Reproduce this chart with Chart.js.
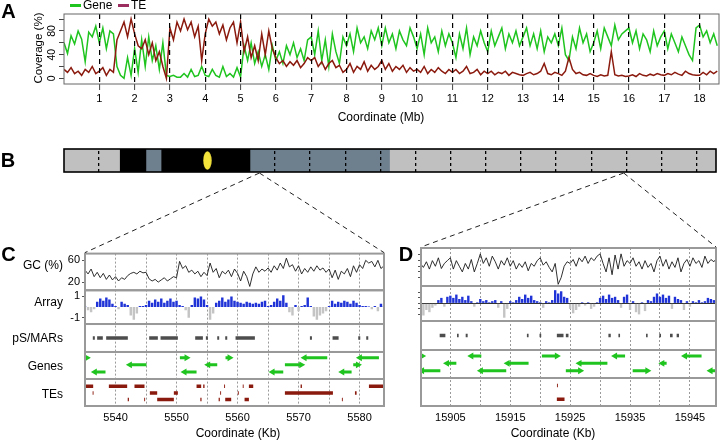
<!DOCTYPE html>
<html>
<head>
<meta charset="utf-8">
<title>Gene and TE coverage</title>
<script src="https://cdn.jsdelivr.net/npm/chart.js@4.4.1/dist/chart.umd.min.js"></script>
<style>
  body { margin: 0; background: #fff; }
  #fig { position: relative; width: 722px; height: 441px; overflow: hidden;
         font-family: "Liberation Sans", Arial, sans-serif; color: #000; }
  #fig canvas { position: absolute; }
  .txt { position: absolute; white-space: nowrap; line-height: 1; font-size: 12px; }
  .c { transform: translate(-50%, -50%); }
  .r { transform: translate(-100%, -50%); }
  .l { transform: translate(0, -50%); }
  .panel { font-size: 20px; font-weight: bold; }
  .swatch { position: absolute; height: 3px; width: 11px; }
</style>
</head>
<body>
<div id="fig">
  <canvas id="chartA" width="722" height="108" style="left:0;top:0"></canvas>
  <canvas id="chartB" width="722" height="40" style="left:0;top:140px"></canvas>
  <canvas id="chartC" width="335" height="196" style="left:55px;top:245px"></canvas>
  <canvas id="chartD" width="322" height="196" style="left:400px;top:245px"></canvas>
  <canvas id="zoomLines" width="722" height="441" style="left:0;top:0;pointer-events:none"></canvas>

  <div class="txt c panel" style="left:8.5px;top:11px">A</div>
  <div class="txt c panel" style="left:8px;top:160px">B</div>
  <div class="txt c panel" style="left:8.5px;top:254px">C</div>
  <div class="txt c panel" style="left:406px;top:254px">D</div>

  <div class="swatch" style="left:70px;top:4px;background:#1fc41f"></div>
  <div class="txt l" style="left:83px;top:5px">Gene</div>
  <div class="swatch" style="left:118px;top:4px;background:#9b2d5f"></div>
  <div class="txt l" style="left:131px;top:5px">TE</div>

  <div class="txt" style="left:39px;top:48px;font-size:11.5px;transform:translate(-50%,-50%) rotate(-90deg)">Coverage (%)</div>
  <div class="txt c" style="left:381px;top:117px">Coordinate (Mb)</div>

  <div class="txt r" style="left:63px;top:265px">GC (%)</div>
  <div class="txt r" style="left:63px;top:302px">Array</div>
  <div class="txt r" style="left:63px;top:338px">pS/MARs</div>
  <div class="txt r" style="left:63px;top:366px">Genes</div>
  <div class="txt r" style="left:63px;top:394px">TEs</div>
  <div class="txt c" style="left:238px;top:433px">Coordinate (Kb)</div>
  <div class="txt c" style="left:553px;top:433px">Coordinate (Kb)</div>
</div>

<script>
// ---- panel A: coverage per 100 kb window (0.0 .. 18.5 Mb) ----
var A_BIN = 0.1;
var A_XMAX = 18.55;
var A_XTICKS = [1,2,3,4,5,6,7,8,9,10,11,12,13,14,15,16,17,18];
var A_YTICKS = [0,20,40,60,80,100];
var A_YLABELS = [0,40,80];

var A_GENE = [
  60,42,72,58,80,66,28,78,70,88,   // 0
  60,85,50,80,75,20,5,0,35,5,      // 1
  50,10,65,20,70,30,55,15,60,5,    // 2
  3,5,2,2,8,2,15,3,5,20,           // 3
  5,3,15,5,2,20,3,8,2,18,          // 4
  2,55,30,60,25,45,20,40,15,55,    // 5
  30,45,25,55,40,60,35,50,30,65,   // 6
  70,40,80,30,65,20,75,45,25,70,   // 7
  55,75,45,85,60,70,50,80,65,85,   // 8
  55,85,60,75,50,80,65,55,85,70,   // 9
  50,75,40,85,60,70,45,80,55,75,   // 10
  60,35,75,50,85,40,70,55,80,60,   // 11
  45,80,55,70,85,50,75,60,80,55,   // 12
  70,85,55,75,50,80,45,70,60,75,   // 13
  55,85,40,30,70,50,85,60,75,45,   // 14
  60,80,50,85,70,55,90,65,75,80,   // 15
  85,60,80,50,75,65,45,80,55,70,   // 16
  80,50,75,60,45,70,55,40,30,85,   // 17
  90,70,80,60,75,55                // 18
];
var A_TE = [
  15,10,18,8,12,5,15,10,20,8,      // 0
  12,18,5,15,10,65,80,95,70,100,   // 1
  75,55,50,65,40,60,30,45,20,0,    // 2
  85,65,95,80,100,82,95,70,88,30,  // 3
  75,100,88,95,75,90,65,85,95,60,  // 4
  95,45,70,35,55,30,75,40,80,50,   // 5
  35,25,30,20,28,22,30,18,25,35,   // 6
  30,35,20,28,15,25,30,18,22,10,   // 7
  15,25,10,20,15,28,12,22,15,20,   // 8
  30,15,25,12,20,15,22,10,18,12,   // 9
  15,10,20,8,15,10,18,12,8,15,     // 10
  10,15,8,12,20,8,10,15,6,12,      // 11
  8,12,6,10,8,12,5,10,8,6,         // 12
  5,8,10,6,8,12,25,8,6,10,         // 13
  8,5,12,35,15,8,10,6,5,8,         // 14
  5,3,6,4,5,45,6,4,5,3,            // 15
  4,6,3,8,5,4,7,5,8,6,             // 16
  5,8,6,10,7,5,12,8,6,5,           // 17
  5,10,6,12,8,12                   // 18
];

// ---- panel B: chromosome bands (Mb) ----
var B_START = [0, 1.60, 2.35, 2.78, 5.31, 9.28];
var B_END   = [1.60, 2.35, 2.78, 5.31, 9.28, 18.55];
var B_BAND  = ['pale', 'dark', 'mid', 'dark', 'mid', 'pale'];
var B_CENTRO = 4.08;

// ---- panels C and D: 0.5 kb windows ----
var TRACK_BIN = 0.5;

var C_RANGE = [5535, 5584];
var C_START = 5535;
var C_XGRID = [5540,5545,5550,5555,5560,5565,5570,5575,5580];
var C_XLABELS = [5540,5550,5560,5570,5580];
var C_GC = [
  42,35,44,30,38,28,36,25,33,24,
  30,22,28,25,32,36,38,35,40,37,
  38,26,22,25,20,24,28,22,26,30,
  28,58,45,50,38,42,35,40,30,38,
  32,55,38,45,28,40,35,42,30,44,
  36,22,40,30,12,35,48,38,44,40,
  46,38,50,42,55,45,64,48,52,40,
  50,35,45,38,48,40,50,42,46,38,
  44,28,42,25,40,35,45,30,50,38,
  52,45,60,55,58,48,60,45,50
];
var C_ARR = [
  0.1,-0.3,-0.5,-0.2,0.5,0.8,0.6,0.9,0.7,0.3,
  0.1,-0.2,0.5,0.3,0.2,-0.8,-1.2,-0.6,0.1,0.1,
  0.2,0.6,0.4,0.7,0.5,0.8,0.4,0.6,0.8,0.5,
  0.6,0.2,0.1,-0.3,-1.0,0.2,0.9,0.8,1.0,0.7,
  0.2,-1.2,-0.6,0.4,0.6,0.9,0.5,0.7,1.0,0.6,
  0.5,0.4,0.3,0.5,0.4,0.3,0.4,0.3,0.5,0.6,
  0.1,0.2,0.5,0.8,0.6,1.1,0.4,-0.5,-0.8,0.2,
  -0.4,0.1,0.2,0.9,0.1,-0.9,-1.2,-0.8,-0.6,-0.4,
  0.1,0.6,0.3,0.5,0.4,0.6,0.5,0.3,0.6,0.4,
  0.2,0.1,0.1,0.05,-0.2,0.1,-0.4,0.3,0.1
];
var C_MAR_START = [5536.28,5536.99,5538.47,5545.52,5547.38,5553.06,5554.81,5556.67,5557.98,5559.67,5571.86,5575.57,5579.78,5581.09];
var C_MAR_END   = [5536.61,5537.92,5542.02,5546.94,5550.22,5554.32,5555.14,5556.99,5558.31,5562.84,5572.19,5576.56,5580.11,5581.42];
var C_GENE_START  = [5535.0,5536.61,5542.35,5550.55,5551.31,5555.19,5558.03,5565.74,5567.76,5570.98,5577.16,5578.96,5580.05];
var C_GENE_END    = [5535.3,5538.36,5545.08,5551.64,5553.28,5556.67,5558.69,5567.49,5570.44,5574.70,5578.69,5579.73,5583.17];
var C_GENE_ROW    = [3,1,2,3,1,2,3,1,2,3,1,2,3];
var C_GENE_STRAND = [1,-1,-1,1,-1,-1,1,-1,1,-1,-1,1,-1];
var C_TE_START = [5535.0,5538.91,5543.11,5546.8,5553.28,5554.37,5557.8,5560.85,5561.86,5570.33,5581.53,
                  5536.25,5545.63,5549.56,5557.15,5560.05,5567.76,5579.24,
                  5542.0,5544.7,5546.83,5553.9,5556.9,5557.98,5561.15,5577.1];
var C_TE_END   = [5536.34,5541.91,5544.75,5546.95,5554.04,5554.59,5557.95,5561.0,5562.57,5570.55,5584.2,
                  5536.4,5546.83,5550.22,5557.3,5560.2,5575.63,5579.51,
                  5542.2,5544.85,5549.56,5554.1,5557.1,5558.96,5561.86,5577.25];
var C_TE_ROW   = [3,3,3,3,3,3,3,3,3,3,3, 2,2,2,2,2,2,2, 1,1,1,1,1,1,1,1];

var D_RANGE = [15900.1, 15949.35];
var D_START = 15900;
var D_XGRID = [15905,15910,15915,15920,15925,15930,15935,15940,15945];
var D_XLABELS = [15905,15915,15925,15935,15945];
var D_GC = [
  45,38,48,35,50,40,55,36,45,50,
  55,35,50,40,30,45,35,52,30,45,
  62,45,55,40,58,48,35,50,42,55,
  40,50,35,45,38,48,32,45,40,50,
  55,42,48,38,30,45,8,20,40,48,
  45,52,40,55,48,58,45,55,50,58,
  62,45,30,55,25,60,35,62,40,50,
  45,55,40,48,35,50,38,45,30,50,
  58,40,52,35,48,38,55,30,45,52,
  40,55,45,50,38,58,45,52,48,55
];
var D_ARR = [
  -0.9,-1.1,-0.6,-0.8,-0.4,-0.2,0.3,0.5,-0.3,0.6,
  0.7,0.5,0.8,0.4,0.6,0.3,0.7,0.2,-0.3,0.1,
  0.4,0.2,0.3,0.1,0.2,0.3,-0.4,0.2,-1.3,-0.5,
  0.2,0.1,0.3,0.6,0.4,0.8,0.5,0.7,0.3,0.2,
  0.1,-0.4,0.2,0.1,0.3,1.2,0.9,1.1,0.6,0.5,
  -0.5,-0.9,-0.6,-0.3,0.1,-0.2,0.1,-0.5,-0.3,0.1,
  0.5,0.7,0.4,0.8,0.5,0.6,0.3,-0.4,0.6,0.8,
  -0.6,0.2,-0.8,-1.0,0.1,-0.7,0.3,0.2,0.6,0.9,
  0.6,0.8,0.5,0.7,-0.5,0.6,0.4,0.3,-0.6,0.2,
  -0.3,0.2,0.1,0.3,0.1,0.2,0.5,0.4,0.3,0.1
];
var D_MAR_START = [15903.22,15906.11,15907.56,15917.78,15919.89,15922.78,15924.28,15931.39,15933.06,15937.67,15939.89,15941.67,15942.78];
var D_MAR_END   = [15904.17,15906.39,15907.89,15918.06,15920.17,15923.89,15924.72,15931.78,15933.33,15937.94,15940.17,15942.11,15943.17];
var D_GENE_START  = [15900.0,15900.28,15904.44,15908.5,15910.1,15914.56,15920.28,15924.28,15926.56,15932.5,15935.44,15940.39,15944.17,15948.44];
var D_GENE_END    = [15900.3,15903.33,15906.0,15910.17,15914.33,15918.06,15922.78,15926.67,15931.22,15934.17,15937.89,15941.11,15946.94,15950.0];
var D_GENE_ROW    = [3,1,2,3,1,2,3,1,2,3,1,2,3,1];
var D_GENE_STRAND = [1,-1,-1,-1,-1,-1,1,1,-1,-1,1,-1,-1,-1];
var D_TE_START = [15922.78, 15922.8];
var D_TE_END   = [15924.06, 15922.95];
var D_TE_ROW   = [1, 3];

// ---- styles ----
var GENE_GREEN = '#1fc41f';
var TE_RED = '#8b1a0e';
var BAND_COLOR = { pale: '#c0c0c0', dark: '#000000', mid: '#6e7f8e' };
var ARR_POS = '#1f33d6';
var ARR_NEG = '#c4c4c4';

Chart.defaults.font.family = '"Liberation Sans", Arial, sans-serif';
Chart.defaults.color = '#000';
Chart.defaults.animation = false;
Chart.defaults.responsive = false;
Chart.defaults.plugins.legend.display = false;
Chart.defaults.plugins.tooltip.enabled = false;

// box round the plot area (or round every stacked track)
var framePlugin = {
    id: 'frame',
    defaults: { color: '#666', width: 1, tracks: false },
    afterDraw: function(chart, args, opts) {
        var ctx = chart.ctx, a = chart.chartArea;
        ctx.save();
        ctx.strokeStyle = opts.color;
        ctx.lineWidth = opts.width;
        if (opts.tracks) {
            Object.values(chart.scales).forEach(function(s) {
                if (s.axis === 'y') ctx.strokeRect(a.left, s.top, a.right - a.left, s.bottom - s.top);
            });
        } else {
            ctx.strokeRect(a.left, a.top, a.right - a.left, a.bottom - a.top);
        }
        ctx.restore();
    }
};
Chart.register(framePlugin);

// R style y labels, turned along the axis
var rotatedYTicks = {
    id: 'rotatedYTicks',
    afterDraw: function(chart) {
        var ctx = chart.ctx, y = chart.scales.y;
        ctx.save();
        ctx.font = '10.5px "Liberation Sans", Arial, sans-serif';
        ctx.fillStyle = '#000';
        ctx.textAlign = 'center';
        ctx.textBaseline = 'middle';
        A_YLABELS.forEach(function(v) {
            ctx.save();
            ctx.translate(chart.chartArea.left - 11.5, y.getPixelForValue(v));
            ctx.rotate(-Math.PI / 2);
            ctx.fillText(String(v), 0, 0);
            ctx.restore();
        });
        ctx.restore();
    }
};

function tickList(values) {
    return function(s) { s.ticks = values.map(function(v) { return { value: v }; }); };
}

function bandAt(v) {
    for (var i = 0; i < B_START.length; i++) {
        if (v >= B_START[i] && v < B_END[i]) return B_BAND[i];
    }
    return 'pale';
}

function ellipseImage(w, h, color) {
    var c = document.createElement('canvas');
    c.width = w; c.height = h;
    var g = c.getContext('2d');
    g.fillStyle = color;
    g.beginPath();
    g.ellipse(w / 2, h / 2, w / 2 - 0.3, h / 2 - 0.3, 0, 0, 2 * Math.PI);
    g.fill();
    return c;
}

// features as broken line pieces: start, end, gap
function segments(starts, ends, rows) {
    var out = [];
    starts.forEach(function(s, i) {
        var r = rows ? rows[i] : 1;
        out.push({ x: s, y: r }, { x: ends[i], y: r }, { x: ends[i], y: null });
    });
    return out;
}

function geneSegments(starts, ends, rows, strand) {
    var out = [];
    starts.forEach(function(s, i) {
        var r = rows[i], left = strand[i] < 0;
        out.push({ x: s, y: r, head: left, rot: -90 },
                 { x: ends[i], y: r, head: !left, rot: 90 },
                 { x: ends[i], y: null });
    });
    return out;
}

// ---- A ----
var chartA = new Chart(document.getElementById('chartA'), {
    type: 'line',
    data: {
        datasets: [
            { label: 'Gene', data: A_GENE.map(function(v, i) { return { x: i * A_BIN, y: v }; }),
              borderColor: GENE_GREEN, borderWidth: 1.5, pointRadius: 0, order: 2 },
            { label: 'TE', data: A_TE.map(function(v, i) { return { x: i * A_BIN, y: v }; }),
              borderColor: TE_RED, borderWidth: 1.5, pointRadius: 0, order: 1 }
        ]
    },
    options: {
        layout: { padding: { top: 14, right: 3, left: 0, bottom: 0 } },
        scales: {
            x: {
                type: 'linear', min: 0, max: A_XMAX,
                afterBuildTicks: tickList(A_XTICKS),
                ticks: { font: { size: 11 }, padding: 2, maxRotation: 0, autoSkip: false },
                grid: { z: 1, color: '#000', lineWidth: 1.2, tickLength: 6, tickColor: '#444', tickWidth: 1 },
                border: { display: false, dash: [5, 4] },
                afterFit: function(s) { s.height = 24; }
            },
            y: {
                type: 'linear', min: -9.6, max: 108.6,
                afterBuildTicks: tickList(A_YTICKS),
                ticks: { display: false },
                grid: { drawOnChartArea: false, tickLength: 5, tickColor: '#444' },
                border: { display: false },
                afterFit: function(s) { s.width = 64; }
            }
        },
        plugins: { frame: { color: '#666', width: 1 } }
    },
    plugins: [rotatedYTicks]
});

// ---- B ----
var chartB = new Chart(document.getElementById('chartB'), {
    type: 'bar',
    data: {
        labels: ['chr'],
        datasets: [
            { data: B_START.map(function(s, i) { return { x: [s, B_END[i]], y: 'chr' }; }),
              backgroundColor: B_BAND.map(function(b) { return BAND_COLOR[b]; }),
              barPercentage: 1, categoryPercentage: 1, borderWidth: 0, order: 2 },
            { type: 'scatter', data: [{ x: B_CENTRO, y: 'chr' }], order: 1,
              pointStyle: ellipseImage(9, 19, '#f3e33b'), pointRadius: 5 }
        ]
    },
    options: {
        indexAxis: 'y',
        layout: { padding: { left: 64, right: 3, top: 9, bottom: 8 } },
        scales: {
            x: {
                type: 'linear', min: 0, max: A_XMAX,
                afterBuildTicks: tickList(A_XTICKS),
                ticks: { display: false },
                grid: {
                    z: 1,
                    color: function(c) { return bandAt(c.tick ? c.tick.value : -1) === 'dark' ? 'rgba(0,0,0,0)' : '#000'; },
                    lineWidth: 1.3, drawTicks: false, offset: false
                },
                border: { display: false, dash: [3, 3], dashOffset: -2 },
                afterFit: function(s) { s.height = 0; }
            },
            y: { type: 'category', display: false }
        },
        plugins: { frame: { color: '#000', width: 1.6 } }
    }
});

// ---- C / D ----
function trackChart(id, t) {
    var pos = function(i) { return t.start + i * TRACK_BIN; };
    function yAxis(weight, size, min, max, extra) {
        var base = {
            type: 'linear', position: 'left', stack: 'tracks', weight: weight, stackWeight: size,
            min: min, max: max,
            ticks: { display: false },
            grid: { drawOnChartArea: false, drawTicks: false },
            border: { display: false },
            afterFit: function(s) { s.width = t.axisWidth; }
        };
        return Object.assign(base, extra || {});
    }
    var tickFont = { display: t.showLabels, font: { size: 11 }, padding: 2 };

    return new Chart(document.getElementById(id), {
        type: 'line',
        data: {
            datasets: [
                { label: 'GC', yAxisID: 'yGC',
                  data: t.gc.map(function(v, i) { return { x: pos(i), y: v }; }),
                  borderColor: '#1a1a1a', borderWidth: 0.9, pointRadius: 0 },
                { type: 'bar', label: 'Array', yAxisID: 'yArr',
                  data: t.arr.map(function(v, i) { return { x: pos(i), y: v }; }),
                  backgroundColor: function(c) { return c.raw && c.raw.y < 0 ? ARR_NEG : ARR_POS; },
                  barPercentage: 0.8, categoryPercentage: 1 },
                { label: 'pS/MARs', yAxisID: 'yMar', data: segments(t.marS, t.marE, null),
                  borderColor: '#4d4d4d', borderWidth: 3.5, borderCapStyle: 'butt', pointRadius: 0 },
                { label: 'Genes', yAxisID: 'yGene',
                  data: geneSegments(t.geneS, t.geneE, t.geneRow, t.geneStrand),
                  borderColor: GENE_GREEN, borderWidth: 3, borderCapStyle: 'butt',
                  pointStyle: 'triangle',
                  pointRadius: function(c) { return c.raw && c.raw.head ? 4 : 0; },
                  pointRotation: function(c) { return c.raw && c.raw.rot ? c.raw.rot : 0; },
                  pointBackgroundColor: GENE_GREEN, pointBorderWidth: 0 },
                { label: 'TEs', yAxisID: 'yTE', data: segments(t.teS, t.teE, t.teRow),
                  borderColor: TE_RED, borderWidth: 3.5, borderCapStyle: 'butt', pointRadius: 0 }
            ]
        },
        options: {
            layout: { padding: { top: 3, right: 6, left: 0, bottom: 0 } },
            scales: {
                x: {
                    type: 'linear', min: t.range[0], max: t.range[1], offset: false,
                    afterBuildTicks: tickList(t.grid),
                    ticks: {
                        callback: function(v) { return t.labels.indexOf(v) >= 0 ? String(v) : ''; },
                        font: { size: 11 }, padding: 5, autoSkip: false, maxRotation: 0
                    },
                    grid: { color: '#9a9a9a', lineWidth: 1, drawTicks: false, offset: false },
                    border: { display: false, dash: [2, 2] },
                    afterFit: function(s) { s.height = 35; }
                },
                yGC: yAxis(5, 38, 5, 72.4, {
                    afterBuildTicks: tickList(t.gcTicks),
                    ticks: tickFont,
                    grid: { drawOnChartArea: false, tickLength: 3, tickColor: '#555' }
                }),
                yArr: yAxis(4, 35, -1.6, 1.58, {
                    afterBuildTicks: tickList(t.arrTicks),
                    ticks: tickFont,
                    grid: {
                        color: function(c) { return c.tick && c.tick.value === 0 ? '#333' : 'rgba(0,0,0,0)'; },
                        tickColor: '#555', tickLength: 3, lineWidth: 1
                    }
                }),
                yMar: yAxis(3, 29, 0, 2),
                yGene: yAxis(2, 28, 0, 3.82),
                yTE: yAxis(1, 28, 0.03, 4.09)
            },
            plugins: { frame: { color: '#999', width: 2, tracks: true } }
        }
    });
}

var chartC = trackChart('chartC', {
    start: C_START, range: C_RANGE, grid: C_XGRID, labels: C_XLABELS,
    axisWidth: 30, showLabels: true, gcTicks: [20, 60], arrTicks: [-1, 0, 1],
    gc: C_GC, arr: C_ARR, marS: C_MAR_START, marE: C_MAR_END,
    geneS: C_GENE_START, geneE: C_GENE_END, geneRow: C_GENE_ROW, geneStrand: C_GENE_STRAND,
    teS: C_TE_START, teE: C_TE_END, teRow: C_TE_ROW
});

var chartD = trackChart('chartD', {
    start: D_START, range: D_RANGE, grid: D_XGRID, labels: D_XLABELS,
    axisWidth: 21, showLabels: false, gcTicks: [20, 30, 40, 50, 60], arrTicks: [-1, -0.5, 0, 0.5, 1],
    gc: D_GC, arr: D_ARR, marS: D_MAR_START, marE: D_MAR_END,
    geneS: D_GENE_START, geneE: D_GENE_END, geneRow: D_GENE_ROW, geneStrand: D_GENE_STRAND,
    teS: D_TE_START, teE: D_TE_END, teRow: D_TE_ROW
});

// dashed lines from the chromosome to the zoomed panels
function drawZoomLines() {
    var ctx = document.getElementById('zoomLines').getContext('2d');
    var bEl = chartB.canvas, bx = chartB.scales.x;
    var y0 = bEl.offsetTop + chartB.chartArea.bottom + 1;
    ctx.strokeStyle = '#222';
    ctx.lineWidth = 1;
    ctx.setLineDash([5, 4]);
    [[chartC, C_RANGE], [chartD, D_RANGE]].forEach(function(p) {
        var ch = p[0], r = p[1];
        var x0 = bEl.offsetLeft + bx.getPixelForValue((r[0] + r[1]) / 2 / 1000);
        var el = ch.canvas, a = ch.chartArea;
        [a.left, a.right].forEach(function(xe) {
            ctx.beginPath();
            ctx.moveTo(x0, y0);
            ctx.lineTo(el.offsetLeft + xe, el.offsetTop + a.top - 1);
            ctx.stroke();
        });
    });
}
drawZoomLines();
</script>
</body>
</html>
